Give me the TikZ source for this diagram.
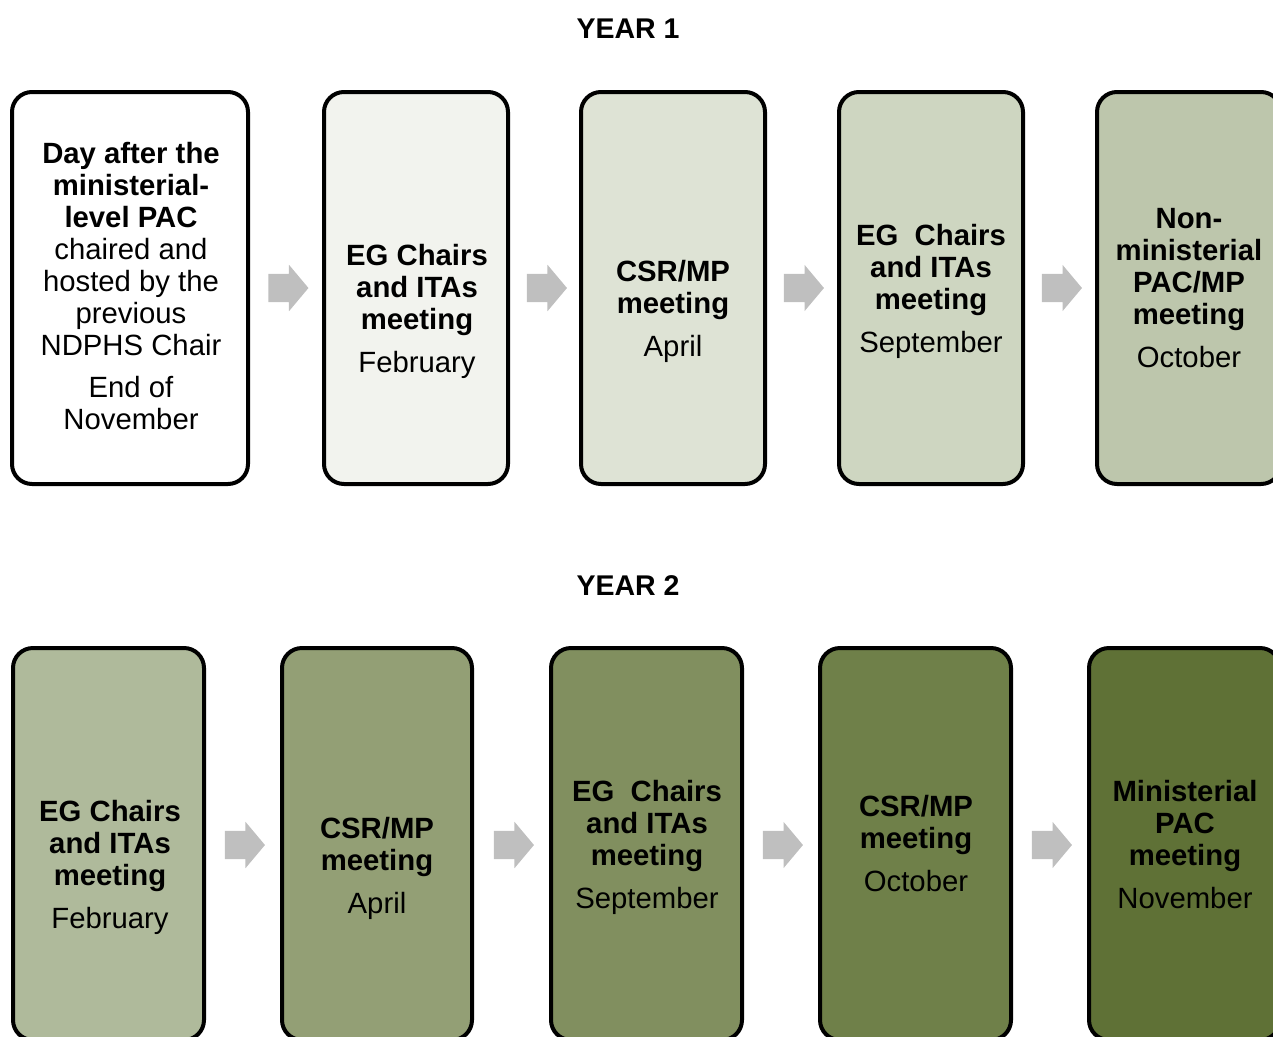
\documentclass[tikz,border=0pt]{standalone}
\usepackage{fontspec}
\setmainfont{Liberation Sans}
\usetikzlibrary{shapes.arrows}
\definecolor{ta}{HTML}{FFFFFF}
\definecolor{tb}{HTML}{F2F3EE}
\definecolor{tc}{HTML}{DEE3D5}
\definecolor{td}{HTML}{CED6C1}
\definecolor{te}{HTML}{BDC6AC}
\definecolor{ba}{HTML}{AFBA9B}
\definecolor{bb}{HTML}{939F75}
\definecolor{bc}{HTML}{818F5F}
\definecolor{bd}{HTML}{6F8049}
\definecolor{be}{HTML}{5F7136}
\definecolor{arrgray}{HTML}{BFBFBF}
\begin{document}
\begin{tikzpicture}[x=1pt,y=-1pt,
  box/.style={draw=black, line width=4pt, rounded corners=20pt, minimum width=#1, minimum height=392pt, inner sep=0pt},
  txt/.style={anchor=north, align=center, inner sep=0pt, font=\fontsize{29.3}{32}\selectfont},
  heading/.style={inner sep=0pt, font=\fontsize{28.5}{30}\selectfont\bfseries},
  blockarrow/.style={single arrow, fill=arrgray, draw=none, inner xsep=0pt, inner ysep=14pt, minimum height=40pt, single arrow head extend=9pt, single arrow tip angle=100, single arrow head indent=0pt}
]
\clip (0,0) rectangle (1273,1036);
\useasboundingbox (0,0) rectangle (1273,1036);

\node[heading] (y1) at (628,29) {YEAR 1};
\node[heading] (y2) at (628,586) {YEAR 2};

% Year 1 boxes
\node[box=236pt, fill=ta] (t1) at (130,288) {};
\node[box=184pt, fill=tb] (t2) at (416,288) {};
\node[box=184pt, fill=tc] (t3) at (673,288) {};
\node[box=184pt, fill=td] (t4) at (931,288) {};
\node[box=184pt, fill=te] (t5) at (1189,288) {};

\node[txt] (t1x) at (131,142) {\textbf{Day after the}\\\textbf{ministerial-}\\\textbf{level PAC}\\chaired and\\hosted by the\\previous\\NDPHS Chair\\[10pt]End of\\November};
\node[txt] (t2x) at (417,244.5) {\textbf{EG Chairs}\\\textbf{and ITAs}\\\textbf{meeting}\\[11pt]February};
\node[txt] (t3x) at (673,260.5) {\textbf{CSR/MP}\\\textbf{meeting}\\[11pt]April};
\node[txt] (t4x) at (931,224.5) {\textbf{EG\ \ Chairs}\\\textbf{and ITAs}\\\textbf{meeting}\\[11pt]September};
\node[txt] (t5x) at (1189,208.5) {\textbf{Non-}\\\textbf{ministerial}\\\textbf{PAC/MP}\\\textbf{meeting}\\[11pt]October};

\node[blockarrow] (ta1) at (282.5,288) {};
\node[blockarrow] (ta2) at (541,288) {};
\node[blockarrow] (ta3) at (798,288) {};
\node[blockarrow] (ta4) at (1056,288) {};

% Year 2 boxes
\node[box=191pt, fill=ba] (b1) at (108.5,844) {};
\node[box=190pt, fill=bb] (b2) at (377,844) {};
\node[box=191pt, fill=bc] (b3) at (646.5,844) {};
\node[box=191pt, fill=bd] (b4) at (915.5,844) {};
\node[box=191pt, fill=be] (b5) at (1184.5,844) {};

\node[txt] (b1x) at (110,800.5) {\textbf{EG Chairs}\\\textbf{and ITAs}\\\textbf{meeting}\\[11pt]February};
\node[txt] (b2x) at (377,817.5) {\textbf{CSR/MP}\\\textbf{meeting}\\[11pt]April};
\node[txt] (b3x) at (647,780.5) {\textbf{EG\ \ Chairs}\\\textbf{and ITAs}\\\textbf{meeting}\\[11pt]September};
\node[txt] (b4x) at (916,795.5) {\textbf{CSR/MP}\\\textbf{meeting}\\[11pt]October};
\node[txt] (b5x) at (1185,780.5) {\textbf{Ministerial}\\\textbf{PAC}\\\textbf{meeting}\\[11pt]November};

\node[blockarrow] (ba1) at (239,845) {};
\node[blockarrow] (ba2) at (508,845) {};
\node[blockarrow] (ba3) at (777,845) {};
\node[blockarrow] (ba4) at (1046,845) {};
\end{tikzpicture}
\end{document}
